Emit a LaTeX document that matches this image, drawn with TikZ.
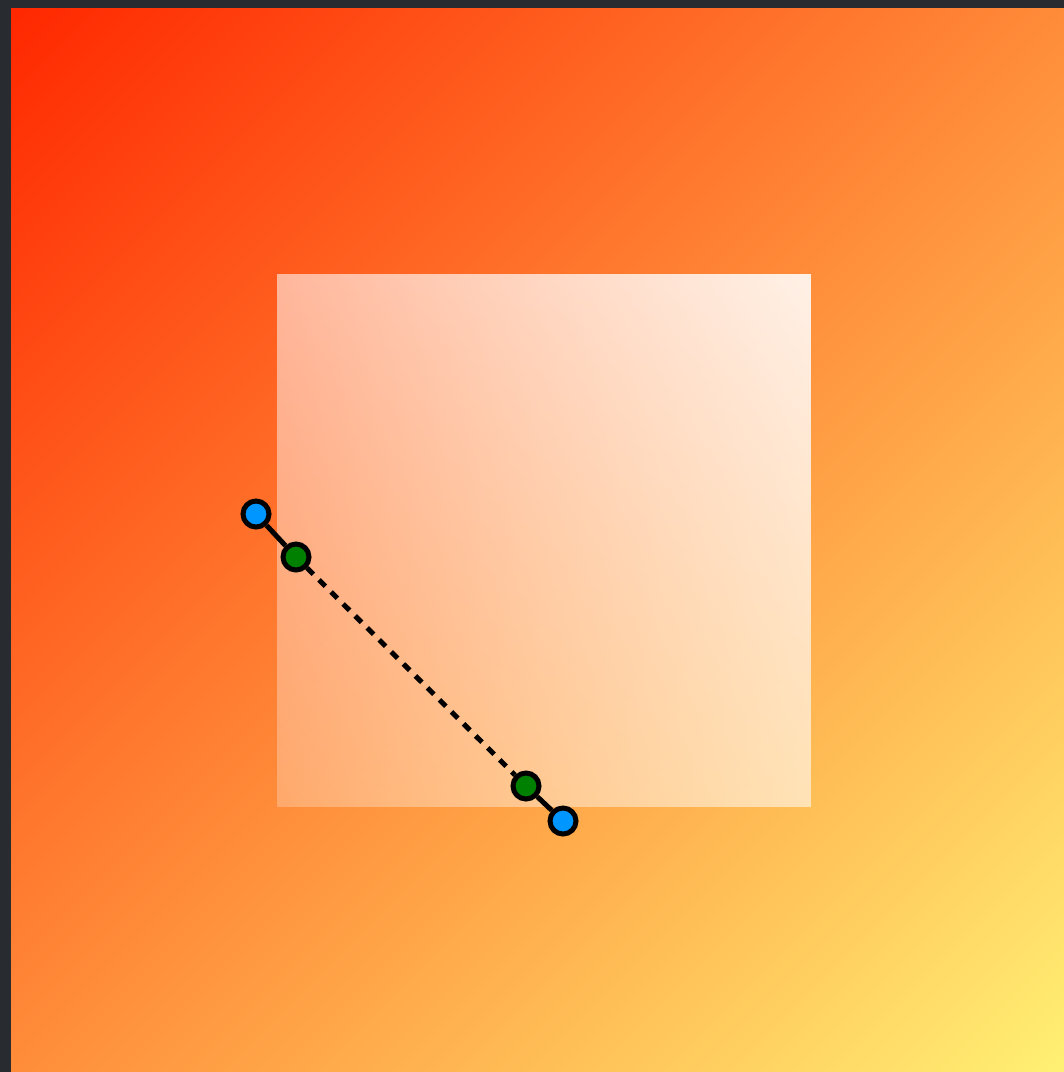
\documentclass[tikz,border=0pt]{standalone}
\usetikzlibrary{fadings}
\definecolor{bgdark}{RGB}{40,43,48}
\definecolor{gradred}{RGB}{255,40,0}
\definecolor{gradyellow}{RGB}{255,240,115}
\definecolor{ptblue}{RGB}{0,150,255}
\definecolor{ptgreen}{RGB}{0,128,0}
\pgfdeclareverticalshading{diaggrad}{100bp}{color(0bp)=(gradyellow); color(14.6bp)=(gradyellow); color(85.4bp)=(gradred); color(100bp)=(gradred)}
\pgfdeclareverticalshading{glassshade}{100bp}{color(0bp)=(pgftransparent!75); color(14.6bp)=(pgftransparent!75); color(85.4bp)=(pgftransparent!12); color(100bp)=(pgftransparent!12)}
\pgfdeclarefading{glassfade}{\pgfuseshading{glassshade}}
\tikzset{
  endpt/.style={circle, draw=black, line width=5pt, fill=ptblue, minimum size=26pt, inner sep=0pt},
  ctrlpt/.style={circle, draw=black, line width=5pt, fill=ptgreen, minimum size=26pt, inner sep=0pt},
  handle/.style={draw=black, line width=5pt},
  guide/.style={draw=black, line width=5pt, dash pattern=on 9pt off 8pt}
}
\begin{document}
\begin{tikzpicture}[x=1pt,y=-1pt]
\useasboundingbox (0,0) rectangle (1064,1072);
\fill[bgdark] (0,0) rectangle (1064,1072);
\shade[shading=diaggrad, shading angle=45] (11,8) rectangle (1064,1072);
\fill[white, path fading=glassfade, fading angle=-45] (277,274) rectangle (812,807);
\node[endpt] (A) at (256,514) {};
\node[ctrlpt] (B) at (296,557) {};
\node[ctrlpt] (C) at (526,786) {};
\node[endpt] (D) at (563,821) {};
\draw[handle] (A) -- (B);
\draw[guide] (B) -- (C);
\draw[handle] (C) -- (D);
\end{tikzpicture}
\end{document}
